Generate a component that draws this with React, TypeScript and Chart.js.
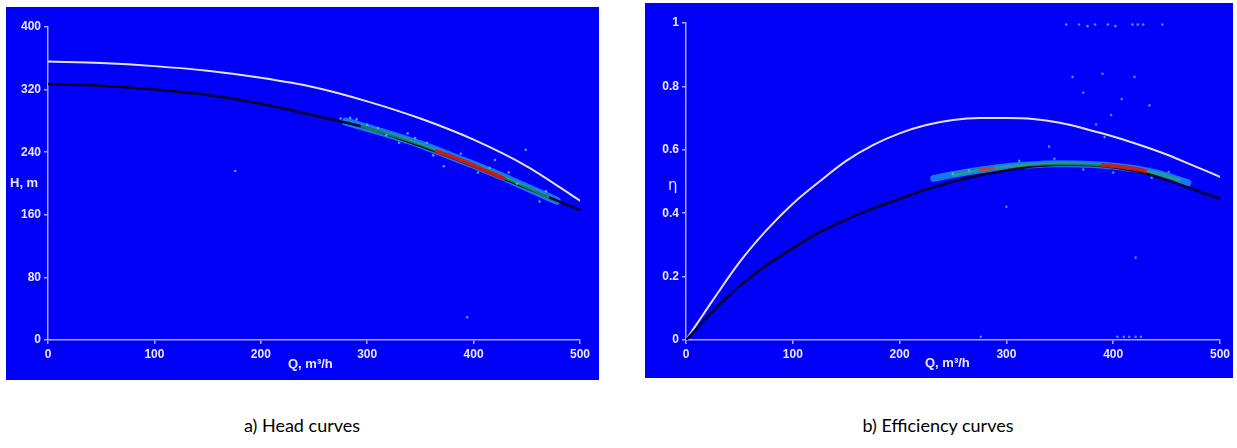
import React, { useEffect, useRef } from "react";
import { Chart, registerables } from "chart.js";

Chart.register(...registerables);

// ---------- Data: head curves (a) ----------
const Q_HEAD = [0, 50, 100, 150, 200, 250, 300, 350, 400, 450, 500];
const H_WHITE = [356, 354, 350, 344, 335, 323, 305, 283, 256, 222, 178];
const H_BLACK = [327, 325, 320, 313, 302, 287, 271, 248, 222, 194, 166];

const Q_HEAD_CLOUD = [280, 300, 325, 350, 375, 400, 425, 450, 478];
const H_HEAD_CLOUD = [279, 271, 261, 250, 237, 224, 210, 195, 178];
const Q_HEAD_GREEN = [295, 325, 350, 375, 400, 425, 450, 470];
const H_HEAD_GREEN = [273, 261, 250, 237, 224, 210, 195, 183];
const Q_HEAD_RED = [365, 380, 395, 410, 428];
const H_HEAD_RED = [241, 234, 226, 217, 207];
const Q_HEAD_OUT = [176, 284, 290, 394, 449, 330, 420, 462, 345, 372, 310, 318, 356, 388, 404, 433, 441, 468, 300, 338, 275, 362, 415];
const H_HEAD_OUT = [216, 284, 282, 29, 243, 252, 230, 177, 258, 222, 271, 262, 252, 238, 214, 214, 200, 190, 275, 264, 283, 236, 220];

// ---------- Data: efficiency curves (b) ----------
const Q_EFF = [0, 10, 25, 50, 75, 100, 125, 150, 175, 200, 225, 250, 275, 300, 325, 350, 375, 400, 425, 450, 475, 500];
const ETA_WHITE = [0, 0.05, 0.125, 0.245, 0.345, 0.43, 0.5, 0.565, 0.615, 0.652, 0.678, 0.694, 0.7, 0.7, 0.697, 0.685, 0.665, 0.642, 0.615, 0.585, 0.55, 0.515];
const ETA_BLACK = [0, 0.035, 0.09, 0.17, 0.235, 0.29, 0.34, 0.38, 0.415, 0.445, 0.475, 0.5, 0.52, 0.535, 0.548, 0.553, 0.552, 0.545, 0.53, 0.505, 0.475, 0.445];

const Q_EFF_CLOUD = [232, 260, 290, 320, 350, 380, 410, 440, 470];
const ETA_EFF_CLOUD = [0.51, 0.528, 0.543, 0.552, 0.556, 0.554, 0.545, 0.527, 0.496];
const Q_EFF_GREEN = [250, 290, 320, 350, 380, 410, 440, 462];
const ETA_EFF_GREEN = [0.52, 0.543, 0.552, 0.556, 0.554, 0.545, 0.527, 0.505];
const Q_EFF_RED = [390, 405, 420, 430];
const ETA_EFF_RED = [0.552, 0.547, 0.54, 0.533];
const Q_EFF_RED2 = [276, 288];
const ETA_EFF_RED2 = [0.537, 0.542];
const Q_EFF_OUT = [356, 368, 376, 383, 395, 402, 418, 423, 428, 446, 362, 372, 390, 408, 420, 434, 384, 398, 421, 300, 404, 410, 415, 421, 426, 276, 340, 392, 250, 265, 312, 345, 372, 400, 436, 452];
const ETA_EFF_OUT = [0.995, 0.995, 0.99, 0.995, 0.995, 0.99, 0.995, 0.995, 0.995, 0.995, 0.83, 0.78, 0.84, 0.76, 0.83, 0.74, 0.68, 0.71, 0.26, 0.42, 0.01, 0.01, 0.01, 0.01, 0.01, 0.01, 0.61, 0.64, 0.525, 0.535, 0.565, 0.572, 0.538, 0.528, 0.512, 0.53];

const X_TICKS = [0, 100, 200, 300, 400, 500];

const BG = "rgb(0, 0, 248)";
const AXIS = "rgb(170, 170, 235)";
const LABEL = "rgb(232, 232, 255)";
const WHITE_CURVE = "rgb(225, 225, 255)";
const BLACK_CURVE = "rgb(0, 0, 45)";

const pts = (xs: number[], ys: number[]) => xs.map((x, i) => ({ x, y: ys[i] }));

const titlePlugin = {
  id: "axisTitles",
  afterDraw(chart: any, _args: any, opts: any) {
    const ctx = chart.ctx;
    ctx.save();
    ctx.fillStyle = LABEL;
    ctx.textBaseline = "middle";
    ctx.textAlign = "left";
    for (const t of opts.items || []) {
      ctx.font = t.font;
      ctx.fillText(t.text, t.x, t.y);
    }
    ctx.restore();
  },
};

function lineDs(data: any[], color: string, width: number) {
  return {
    type: "line",
    data,
    borderColor: color,
    borderWidth: width,
    pointRadius: 0,
    fill: false,
    cubicInterpolationMode: "monotone",
    borderCapStyle: "round",
  };
}

function scatterDs(data: any[], color: string) {
  return {
    type: "scatter",
    data,
    backgroundColor: color,
    borderWidth: 0,
    pointRadius: 1.3,
  };
}

function axisCommon() {
  return {
    border: { display: true, color: AXIS, width: 1.5 },
    grid: { drawOnChartArea: false, drawTicks: true, tickLength: 4, color: AXIS, lineWidth: 1.5 },
  };
}

// Chart.js draws dataset index 0 on top, so the list runs top -> bottom.
function buildConfig(kind: "head" | "eff") {
  const isHead = kind === "head";
  const datasets: any[] = isHead
    ? [
        scatterDs(pts(Q_HEAD_OUT, H_HEAD_OUT), "rgba(90, 200, 255, 0.8)"),
        lineDs(pts(Q_HEAD_RED, H_HEAD_RED), "rgba(205, 25, 15, 0.95)", 4),
        lineDs(pts(Q_HEAD_GREEN, H_HEAD_GREEN), "rgba(40, 175, 90, 0.7)", 3),
        lineDs(pts(Q_HEAD, H_BLACK), BLACK_CURVE, 2.5),
        lineDs(pts(Q_HEAD_CLOUD, H_HEAD_CLOUD), "rgba(40, 200, 240, 0.6)", 8),
        lineDs(pts(Q_HEAD, H_WHITE), WHITE_CURVE, 2),
      ]
    : [
        scatterDs(pts(Q_EFF_OUT, ETA_EFF_OUT), "rgba(90, 200, 255, 0.7)"),
        lineDs(pts(Q_EFF_RED, ETA_EFF_RED), "rgba(205, 25, 15, 0.95)", 4),
        lineDs(pts(Q_EFF_RED2, ETA_EFF_RED2), "rgba(210, 60, 30, 0.9)", 3),
        lineDs(pts(Q_EFF_GREEN, ETA_EFF_GREEN), "rgba(40, 175, 90, 0.7)", 3),
        lineDs(pts(Q_EFF, ETA_BLACK), BLACK_CURVE, 2.5),
        lineDs(pts(Q_EFF_CLOUD, ETA_EFF_CLOUD), "rgba(40, 200, 240, 0.6)", 7),
        lineDs(pts(Q_EFF, ETA_WHITE), WHITE_CURVE, 2),
      ];

  const yWidth = isHead ? 42 : 41;
  const xHeight = isHead ? 40 : 38;
  const tickFont = { family: '"Liberation Sans", Arial, sans-serif', size: 12, weight: "bold" as const };
  const titleFont = 'bold 13px "Liberation Sans", Arial, sans-serif';

  return {
    type: "line",
    data: { datasets },
    options: {
      animation: false,
      responsive: true,
      maintainAspectRatio: false,
      layout: { padding: { top: 20, right: isHead ? 19 : 11, left: 0, bottom: 0 } },
      plugins: {
        legend: { display: false },
        tooltip: { enabled: false },
        axisTitles: {
          items: isHead
            ? [
                { text: "H, m", x: 4, y: 176, font: titleFont },
                { text: "Q, m\u00b3/h", x: 282, y: 357, font: titleFont },
              ]
            : [
                { text: "\u03b7", x: 23, y: 183, font: '15px "DejaVu Sans", sans-serif' },
                { text: "Q, m\u00b3/h", x: 280, y: 360, font: titleFont },
              ],
        },
      },
      scales: {
        x: {
          type: "linear",
          min: 0,
          max: 500,
          afterBuildTicks: (s: any) => {
            s.ticks = X_TICKS.map((v) => ({ value: v }));
          },
          afterFit: (s: any) => {
            s.height = xHeight;
          },
          ticks: { color: LABEL, font: tickFont, padding: 3, maxRotation: 0 },
          ...axisCommon(),
        },
        y: {
          type: "linear",
          min: 0,
          max: isHead ? 400 : 1,
          ticks: {
            color: LABEL,
            font: tickFont,
            padding: 3,
            stepSize: isHead ? 80 : 0.2,
            callback: (v: any) => (isHead ? String(v) : String(Math.round(v * 10) / 10)),
          },
          afterFit: (s: any) => {
            s.width = yWidth;
          },
          ...axisCommon(),
        },
      },
    },
    plugins: [titlePlugin],
  } as any;
}

function Panel(props: { kind: "head" | "eff"; left: number; top: number; width: number; height: number }) {
  const ref = useRef<HTMLCanvasElement | null>(null);
  useEffect(() => {
    if (!ref.current) return;
    const chart = new Chart(ref.current, buildConfig(props.kind));
    return () => chart.destroy();
  }, [props.kind]);
  return (
    <div
      style={{
        position: "absolute",
        left: props.left,
        top: props.top,
        width: props.width,
        height: props.height,
        background: BG,
      }}
    >
      <canvas ref={ref} />
    </div>
  );
}

const captionStyle: React.CSSProperties = {
  position: "absolute",
  top: 414,
  width: 300,
  textAlign: "center",
  fontFamily: "Lato, 'Open Sans', sans-serif",
  fontSize: 18,
  color: "#000",
  whiteSpace: "nowrap",
};

export default function App() {
  return (
    <div>
      <Panel kind="head" left={6} top={7} width={593} height={373} />
      <Panel kind="eff" left={645} top={3} width={588} height={375} />
      <div style={{ ...captionStyle, left: 302 - 150 }}>a) Head curves</div>
      <div style={{ ...captionStyle, left: 938 - 150 }}>b) Efficiency curves</div>
    </div>
  );
}
